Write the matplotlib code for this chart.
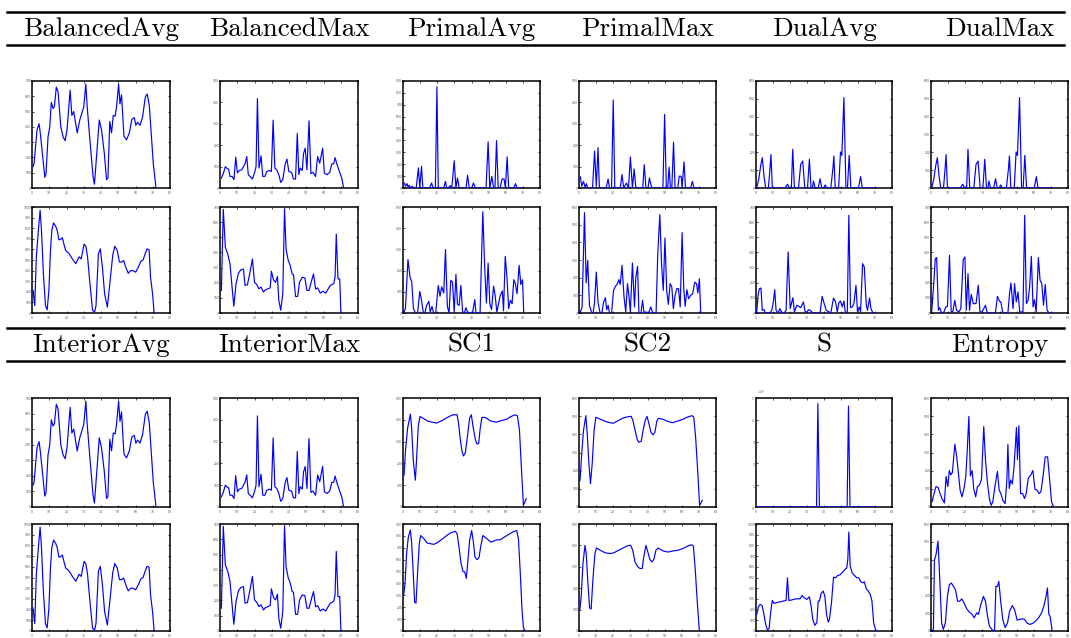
import numpy as np
import matplotlib
matplotlib.use("Agg")
import matplotlib.pyplot as plt
from matplotlib.lines import Line2D

plt.rcParams['axes.formatter.use_mathtext'] = True
plt.rcParams['mathtext.fontset'] = 'cm'

W, H = 1071, 638

# ---- data: x = step, y in units of the y ticks ----
bal_avg_top_x = [0.6,1.2,2.9,4.1,4.8,6.4,7.4,8.1,9.3,10.3,11.2,12.2,13.0,14.1,15.1,16.7,18.0,19.2,20.3,22.1,23.1,24.2,26.2,27.7,30.0,31.2,32.0,33.9,35.4,36.2,37.4,39.0,40.3,41.9,43.2,44.0,45.1,46.1,47.1,48.2,49.0,50.2,51.0,51.9,53.3,54.8,56.4,57.9,59.3,60.2,61.2,62.6,64.1,65.7,66.8,68.0,69.1,70.3,71.9]
bal_avg_top_y = [1.4,1.6,3.8,4.2,3.6,1.85,0.7,0.9,3.35,4.0,5.6,5.2,5.35,6.6,6.3,4.0,3.35,3.1,3.8,6.4,4.75,5.0,3.6,4.45,5.3,6.8,5.3,2.7,0.75,0.25,2.05,4.45,3.8,2.3,0.55,0.65,4.35,3.6,4.75,4.7,5.3,6.8,5.5,6.1,3.4,3.15,3.6,4.5,4.6,4.1,4.3,4.1,4.65,5.95,6.15,5.4,3.6,1.6,0.0]

bal_avg_bot_x = [0.6,1.6,2.5,3.7,4.7,5.5,6.6,7.8,8.8,9.8,10.7,11.5,12.5,13.7,14.6,15.6,16.6,17.6,18.5,19.5,21.5,23.4,25.4,27.3,28.5,30.2,31.2,32.2,33.6,35.1,36.3,37.1,38.5,39.6,40.8,42.1,43.7,44.9,46.8,48.0,49.4,50.7,51.9,53.1,54.3,55.8,57.2,58.5,60.1,61.7,63.2,64.4,65.6,66.7,67.9,68.7,69.9,70.8]
bal_avg_bot_y = [2.15,0.7,5.3,7.8,9.7,7.8,3.7,0.7,0.3,2.15,5.9,7.8,8.5,8.2,7.8,6.9,6.95,7.1,6.5,5.9,5.6,5.1,4.65,5.3,5.1,6.5,6.3,5.3,2.75,0.25,0.1,0.7,5.6,6.05,4.35,1.8,0.55,2.45,5.45,6.3,5.9,4.8,4.8,4.95,4.35,3.75,4.0,4.0,3.85,4.35,4.9,5.0,5.6,6.05,5.95,3.4,1.8,0.0]

bal_max_top_x = [0.8,1.9,3.1,3.9,5.0,5.8,7.0,8.1,9.1,10.1,11.2,12.6,13.6,14.5,15.5,16.4,17.4,18.8,20.1,20.9,21.7,22.6,23.8,24.8,26.0,27.1,28.7,29.8,30.8,31.8,32.9,34.1,35.2,36.4,37.8,38.8,39.9,41.5,42.6,43.8,44.8,45.7,46.5,47.7,48.4,49.4,50.4,51.6,52.7,53.9,55.4,56.6,57.8,59.5,60.5,62.0,63.6,64.8,65.9,66.7,67.9,69.4,70.6,71.7]
bal_max_top_y = [0.46,0.67,1.0,0.93,0.88,0.54,0.54,0.39,1.44,0.7,0.82,0.85,1.0,1.13,1.47,0.62,0.54,0.42,0.73,1.0,4.18,0.93,1.5,0.54,0.54,0.77,0.82,0.77,3.17,0.93,0.85,0.62,0.26,0.39,1.13,1.35,0.77,0.73,0.42,0.42,2.55,0.62,0.93,0.82,1.6,1.86,0.85,3.14,0.67,0.73,0.54,1.47,1.16,1.86,0.7,0.62,0.73,1.13,1.13,1.42,1.08,0.73,0.46,0.0]

bal_max_bot_x = [0.8,1.9,3.1,4.6,5.8,7.0,8.0,9.3,10.7,12.0,13.6,14.5,15.9,17.4,18.8,20.0,21.3,22.5,23.8,25.2,26.3,27.9,29.1,29.8,31.0,32.2,33.3,34.1,35.2,36.4,37.4,38.3,39.5,40.7,41.8,42.6,43.8,45.0,46.1,47.7,49.2,50.4,51.6,53.1,54.2,55.4,56.6,58.1,59.7,61.2,62.4,63.9,65.9,66.7,67.4,68.4,69.4,70.1]
bal_max_bot_y = [1.49,6.85,4.33,3.85,3.24,1.71,0.44,1.93,2.63,2.84,2.9,1.82,1.86,2.7,3.57,2.03,1.88,1.6,1.71,1.38,1.53,1.6,1.66,2.76,2.19,2.03,2.41,0.83,0.18,1.27,6.89,4.22,3.5,3.13,2.58,2.54,1.09,1.09,2.03,2.36,2.32,1.49,1.49,2.14,2.58,1.58,1.66,1.31,1.44,1.31,1.53,1.82,1.93,2.36,5.21,2.25,2.25,0.0]

primal_avg_top_x = [0.8,1.4,2.4,2.9,3.7,4.3,5.3,6.3,7.7,9.0,9.8,10.8,11.6,15.5,16.7,17.5,18.9,19.8,20.6,23.8,24.8,25.5,26.5,27.5,28.5,29.9,30.9,31.8,32.8,36.8,37.7,38.7,40.1,41.1,42.3,48.5,49.7,50.7,51.9,52.9,53.7,54.6,55.6,56.8,57.8,59.0,59.8,60.8,61.7,64.7,65.7,66.6,70.2]
primal_avg_top_y = [0.42,0.14,0.37,0.08,0.22,0,0.14,0,0,1.69,0,1.83,0,0,0.42,0,0,8.51,0,0,0.56,0,0,0.2,0,2.3,0,0.84,0,0,1.07,0,0,0.42,0,0,3.88,0,0.98,0,0,3.99,0,0,0.76,0.76,0,2.61,0,0,0.37,0,0]

primal_avg_bot_x = [0.4,1.4,2.9,4.1,5.1,6.1,7.3,8.5,9.8,10.8,11.8,12.8,13.8,15.1,15.9,16.9,17.9,19.1,20.6,21.6,22.6,23.8,24.8,25.9,26.9,27.9,28.9,29.9,30.9,31.8,32.8,33.8,34.8,35.8,36.8,37.7,39.1,40.7,41.9,42.6,45.0,46.6,47.7,48.7,49.7,50.7,51.7,52.9,53.8,54.8,55.8,56.8,58.0,58.7,59.7,60.7,61.7,62.7,63.7,64.7,65.6,66.6,67.8,68.8,69.8,70.5]
primal_avg_bot_y = [0,0.2,2.52,1.7,1.46,0.2,0,0,1.02,0.6,0.05,0,0.36,0.55,0.05,0.31,0,0,1.3,0.79,1.23,0.94,2.99,0.31,0,1.54,1.46,0.05,1.82,0.41,0.36,1.3,0.05,0,0.25,0.05,0,0.05,0.63,0,0,4.78,2.17,0.47,2.36,0.44,0.16,1.27,0.83,0.05,0.44,0.83,1.04,0.1,2.67,1.7,0.2,0.6,0.44,1.57,1.38,0.91,2.25,1.34,1.57,0]

primal_max_top_x = [0.8,1.6,2.6,3.6,4.3,5.1,7.9,9.1,10.1,11.1,11.9,15.8,17.0,17.8,19.0,20.0,20.9,24.1,25.1,26.1,27.7,28.9,30.0,31.2,32.2,33.2,37.2,38.1,39.1,40.3,41.1,42.5,49.0,50.0,51.0,51.8,52.6,53.4,54.2,55.2,56.1,57.7,58.5,59.7,60.2,61.3,62.2,65.2,66.2,67.2,71.1]
primal_max_top_y = [0.52,0.08,0.31,0.03,0.2,0,0,1.72,0.08,1.88,0,0,0.42,0,0,4.11,0,0,0.63,0,0.23,0,1.45,0,0.89,0,0,1.09,0,0,0.47,0,0,3.44,0,0,0.98,0,0,2.14,0,0,0.55,0.55,0,1.22,0,0,0.31,0,0]

primal_max_bot_x = [0.6,1.8,3.2,4.2,5.1,6.1,7.3,8.3,9.1,10.1,11.1,12.3,13.4,14.4,15.4,16.2,17.0,17.8,19.0,20.2,21.3,22.5,23.3,24.1,25.1,26.3,27.3,28.3,29.2,30.0,31.2,32.4,33.2,34.2,35.0,36.2,37.1,37.9,39.5,40.7,41.9,43.1,45.0,46.0,47.2,48.2,49.2,50.2,51.2,52.2,53.2,54.2,55.1,56.1,57.1,58.1,59.1,60.2,61.2,62.0,63.0,64.0,65.2,66.4,67.6,68.6,69.4,70.3,71.1]
primal_max_bot_y = [0,0.34,5.68,1.7,2.98,0.43,0.05,0,0.62,2.32,0.62,0,0.05,0.62,0.87,0.18,0.43,0,0,1.28,1.51,1.66,1.89,1.62,2.7,0.91,0.05,1.66,0.94,0.05,2.83,0.34,2.04,2.64,0,0,0.72,0.05,0.05,0,0.34,0,0,3.36,5.57,2.79,1.28,4.25,1.28,0.49,1.66,1.47,0.25,1.0,1.38,1.38,0.34,4.55,1.32,0.38,1.32,0.81,1.0,1.09,1.75,1.66,1.13,1.94,0]

dual_top_x = [0.4,1.6,2.8,3.7,4.7,5.7,7.3,8.3,8.8,9.6,17.1,18.5,19.7,20.8,21.6,22.6,25.0,26.3,27.5,28.7,30.3,31.4,32.4,33.2,33.8,34.8,36.6,37.7,38.7,39.7,40.7,41.7,44.0,45.2,45.8,46.6,48.6,49.7,50.5,51.7,52.9,53.8,54.8,55.8,60.3,61.5,62.5,70.2]
dual_top_y = [0,0.49,1.27,1.7,0.67,0,0,1.18,1.87,0,0,0.21,0,0,2.17,0,0,1.33,1.51,0,0,1.61,0,0,0.39,0,0,0.52,0,0,0.17,0,0,1.05,1.79,0,0,2.02,1.83,5.07,0,0,1.83,0,0,0.64,0,0]

dual_avg_bot_x = [0.4,1.2,2.0,2.9,3.7,4.7,5.5,8.3,9.4,10.2,11.0,11.8,13.0,14.0,15.0,16.5,17.7,18.9,20.1,21.7,22.6,24.0,25.2,26.3,27.9,28.9,29.9,31.1,32.3,33.4,37.7,38.9,40.1,41.3,44.0,45.6,46.8,47.8,48.7,49.7,50.7,51.7,52.5,53.7,54.6,55.6,56.6,57.6,58.8,59.7,60.7,61.5,62.7,63.7,64.9,65.6,66.8,67.6,68.8,70.2]
dual_avg_bot_y = [0,1.17,1.61,1.65,0.18,0.22,0,0,0.22,0.73,1.54,0.18,0,0.29,0.07,0,0.18,4.03,0.29,1.01,0.07,0.51,0.44,0.35,0.73,0.07,0.07,0.22,0.13,0,0,1.1,0.62,0.18,0,0.99,0.73,0.07,0.66,0.79,0.4,0.79,0.07,0,6.45,0.35,0.4,0.62,1.83,0.07,0.4,0.07,3.26,3.04,0.51,0.18,0.99,0.29,0,0]

dual_max_bot_x = [0.4,1.6,2.5,3.3,4.3,5.1,6.1,7.6,8.6,9.6,10.8,11.8,12.7,13.9,14.9,16.3,17.4,18.8,19.8,20.6,21.6,22.5,23.5,24.7,26.3,27.6,28.6,29.8,30.8,31.8,32.7,33.7,37.6,38.8,40.0,40.8,41.8,42.7,44.9,45.9,46.7,47.9,48.8,49.8,50.8,51.8,53.7,54.7,55.7,56.7,57.6,58.6,59.6,60.4,61.4,62.7,63.7,64.7,65.7,66.7,67.8,69.0,70.2]
dual_max_bot_y = [0.07,1.94,3.59,3.66,0.18,0.35,0,0.07,0.4,0.44,3.81,0.07,0.07,0.84,0.18,0.07,0.29,3.52,3.7,0.18,2.6,0.18,1.23,0.62,0.62,1.83,0.07,0.07,0.29,0.51,0.07,0,0,1.1,0.77,0.73,0.07,0,0,1.32,1.98,0.29,1.94,0.73,1.39,0.07,0.07,6.45,0.62,0.84,1.72,3.74,0.4,0.88,0.07,3.66,2.16,1.94,0.51,1.89,0.18,0,0]

sc1_top_x = [0.6,1.5,2.7,4.3,5.0,6.0,7.2,7.9,8.9,9.9,12.2,14.1,17.0,19.6,22.9,26.2,29.1,31.6,32.4,33.5,34.5,35.3,36.4,37.4,38.9,39.9,40.9,42.2,43.2,44.2,45.1,46.1,48.1,51.0,54.4,57.7,60.6,63.0,65.5,66.8,68.0,69.1,70.3,71.1,71.9]
sc1_top_y = [1.46,2.62,3.62,4.26,3.69,2.15,1.23,2.15,3.69,4.15,4.05,3.95,3.89,3.85,3.97,4.12,4.23,4.23,3.85,3.08,2.54,2.34,2.49,3.08,4.08,4.23,3.69,3.11,2.89,2.92,3.62,4.11,4.11,3.95,3.89,3.97,4.03,4.15,4.23,4.18,3.54,1.85,0.08,0.23,0.38]

sc1_bot_x = [0.4,1.2,2.1,3.1,4.3,5.0,5.8,6.8,7.6,8.5,9.5,10.3,12.2,14.1,16.1,18.0,19.6,21.9,24.8,27.7,30.6,31.6,32.7,33.9,35.1,36.0,37.0,38.0,38.9,40.1,41.1,42.0,43.2,44.4,45.3,46.7,49.0,51.3,52.9,54.8,56.8,59.1,61.6,64.5,66.4,67.4,68.4,69.5,70.3,71.1]
sc1_bot_y = [3.05,4.02,6.51,7.89,8.5,7.48,5.4,2.41,2.35,4.85,7.34,8.03,7.76,7.4,7.34,7.29,7.4,7.62,7.95,8.25,8.39,8.17,7.06,5.68,4.99,4.99,4.43,6.09,7.62,8.45,7.48,6.23,6.0,6.17,7.06,8.03,7.76,7.48,7.56,7.67,7.67,7.89,8.11,8.36,8.45,7.76,5.12,1.8,0.28,0.08]

sc2_top_x = [0.6,1.5,2.6,4.0,4.8,5.8,6.7,7.7,8.8,9.8,12.3,15.2,18.1,20.0,22.8,25.7,28.6,30.5,31.5,32.8,34.0,34.9,36.3,37.4,38.6,39.7,40.9,42.0,43.2,44.3,45.5,46.4,48.7,51.6,54.5,57.4,60.3,63.1,66.0,67.0,68.1,69.3,70.4,71.2,72.0]
sc2_top_y = [1.46,2.83,4.2,5.03,4.02,2.38,1.28,2.38,4.2,4.94,4.84,4.72,4.64,4.61,4.75,4.9,4.97,4.99,4.75,4.2,3.71,3.56,3.62,4.2,4.75,4.99,4.57,4.11,3.97,4.11,4.75,4.88,4.84,4.72,4.64,4.72,4.81,4.94,5.03,4.94,3.84,2.01,0.09,0.22,0.37]

sc2_bot_x = [0.5,1.3,2.3,3.5,4.2,5.2,6.2,7.1,8.1,9.3,10.2,12.5,15.4,18.3,20.2,23.1,26.0,28.9,30.2,31.4,32.7,34.3,35.6,36.9,37.9,39.1,40.2,41.4,42.5,43.7,44.9,46.2,49.1,51.9,54.8,57.7,60.6,63.5,65.8,66.8,67.9,69.1,70.2,70.6]
sc2_bot_y = [1.0,1.62,3.15,4.0,3.62,2.23,1.08,1.03,2.38,3.62,3.88,3.77,3.65,3.62,3.65,3.77,3.89,4.0,4.0,3.77,3.23,3.0,2.92,2.92,3.49,4.0,3.69,3.34,3.23,3.34,3.77,3.88,3.74,3.69,3.74,3.77,3.85,3.97,4.03,3.97,2.85,1.31,0.08,0]

s_top_x = [0.3,35.6,36.4,37.3,53.6,54.4,55.3,70.2]
s_top_y = [0,0,47400,0,0,46300,0,0]

s_bot_x = [0.4,1.4,2.4,3.5,4.5,5.7,6.7,7.7,8.6,9.6,10.6,11.8,13.2,14.5,16.1,17.7,18.5,19.3,20.8,22.0,24.0,26.0,27.1,28.3,29.9,31.4,32.4,33.4,34.6,35.8,36.6,37.3,38.3,39.5,40.5,41.5,42.5,43.2,44.4,45.6,46.8,48.0,49.5,50.9,52.3,53.4,54.0,54.6,55.4,56.6,57.9,59.3,60.5,61.6,62.8,63.7,64.9,66.0,67.2,68.2,69.2,70.2,71.2]
s_bot_y = [1.55,2.27,2.48,2.39,1.71,0.62,0.09,0.22,1.71,2.86,2.58,2.64,2.7,2.73,2.8,2.86,4.97,2.86,2.89,2.95,3.01,3.01,3.32,3.11,2.95,3.2,2.33,1.09,0.53,0.78,2.8,2.8,3.51,3.73,3.26,1.55,0.84,1.09,2.64,5.03,4.97,5.19,5.25,5.5,5.75,5.9,6.68,9.25,6.06,5.43,5.19,4.97,4.97,4.6,4.5,4.6,3.94,3.73,3.42,2.8,0.78,0.16,0]

entropy_top_x = [0.6,1.8,2.9,4.1,5.3,6.4,7.8,8.8,9.8,10.7,11.5,12.5,13.9,15.0,16.0,17.0,18.1,19.3,20.3,21.1,22.1,23.0,24.0,25.0,26.1,27.1,28.3,29.5,30.8,31.8,33.0,34.1,35.1,36.1,37.3,38.8,39.8,40.8,41.9,43.3,44.3,44.9,45.7,46.5,47.5,48.5,49.9,50.5,51.3,52.3,53.5,54.6,55.6,56.8,58.3,59.5,60.7,61.9,63.1,64.2,65.4,66.7,68.1,69.3,70.4,71.6]
entropy_top_y = [0.28,0.74,1.12,1.08,0.74,0.47,0.22,1.68,1.12,2.01,1.77,1.9,3.45,2.79,1.86,0.93,0.56,1.02,1.68,2.98,4.99,1.71,2.01,0.97,0.56,1.12,1.21,1.53,4.43,2.61,1.3,0.47,0.09,0.28,1.12,1.96,0.93,0.74,0.37,0.19,1.49,3.45,1.02,1.49,1.27,2.23,4.38,2.61,4.47,0.74,0.74,0.47,0.74,1.58,1.77,2.01,0.97,0.93,0.74,0.84,1.68,2.76,2.76,1.49,0.28,0]

entropy_bot_x = [0.6,1.4,2.0,2.9,4.1,5.3,6.2,7.2,8.4,9.6,10.7,11.9,13.1,14.3,15.5,16.7,18.0,19.3,20.9,22.4,24.0,25.2,26.7,27.7,29.1,30.6,31.8,33.0,34.1,35.5,36.5,37.1,37.9,38.8,39.6,40.8,41.9,43.3,44.7,45.9,47.5,48.9,50.3,51.9,53.3,54.6,56.2,57.8,59.4,61.1,63.1,64.6,66.0,67.0,68.0,68.8,69.5,70.7]
entropy_bot_y = [0,0.09,3.98,4.26,5.04,2.5,0.46,0.09,0.46,1.94,2.59,2.69,2.5,2.31,1.67,1.67,1.8,1.57,1.24,1.06,0.93,0.74,1.02,0.93,1.48,1.94,1.67,0.83,0.28,0.09,0,0,2.5,2.5,2.78,1.57,0.65,0.19,0.46,1.11,1.43,1.17,0.61,0.65,0.69,0.65,0.43,0.37,0.43,0.56,0.78,1.02,1.43,1.85,2.41,0.93,0.83,0.06]

top_names = ["BalancedAvg", "BalancedMax", "PrimalAvg", "PrimalMax", "DualAvg", "DualMax"]
bottom_names = ["InteriorAvg", "InteriorMax", "SC1", "SC2", "S", "Entropy"]

# each entry: (x, y, y max, y step); two plots under every heading
top_panels = [
    [(bal_avg_top_x, bal_avg_top_y, 7, 1), (bal_avg_bot_x, bal_avg_bot_y, 10, 1)],
    [(bal_max_top_x, bal_max_top_y, 5, 1), (bal_max_bot_x, bal_max_bot_y, 7, 1)],
    [(primal_avg_top_x, primal_avg_top_y, 9, 1), (primal_avg_bot_x, primal_avg_bot_y, 5, 1)],
    [(primal_max_top_x, primal_max_top_y, 5, 1), (primal_max_bot_x, primal_max_bot_y, 6, 1)],
    [(dual_top_x, dual_top_y, 6, 1), (dual_avg_bot_x, dual_avg_bot_y, 7, 1)],
    [(dual_top_x, dual_top_y, 6, 1), (dual_max_bot_x, dual_max_bot_y, 7, 1)],
]
bottom_panels = [
    [(bal_avg_top_x, bal_avg_top_y, 7, 1), (bal_avg_bot_x, bal_avg_bot_y, 10, 1)],
    [(bal_max_top_x, bal_max_top_y, 5, 1), (bal_max_bot_x, bal_max_bot_y, 7, 1)],
    [(sc1_top_x, sc1_top_y, 5, 1), (sc1_bot_x, sc1_bot_y, 9, 1)],
    [(sc2_top_x, sc2_top_y, 6, 1), (sc2_bot_x, sc2_bot_y, 5, 1)],
    [(s_top_x, s_top_y, 50000, 10000), (s_bot_x, s_bot_y, 10, 1)],
    [(entropy_top_x, entropy_top_y, 6, 1), (entropy_bot_x, entropy_bot_y, 6, 1)],
]

# pixel layout
col_left = [32, 220, 403, 579, 756, 931]
col_right = [170, 358, 540, 716, 892, 1068]
row_top = [81, 207, 398, 524]
row_bot = [188, 313, 507, 631]

fig = plt.figure(figsize=(W / 100, H / 100), dpi=100)


def small_plot(l, t, r, b, x, y, ymax, ystep):
    ax = fig.add_axes([l / W, 1 - b / H, (r - l) / W, (b - t) / H])
    # line drawn over the frame, as in the original where zero runs show blue
    ax.plot(x, y, color='#0000ff', lw=0.85, zorder=3)
    ax.set_xlim(0, 80)
    ax.set_ylim(0, ymax)
    ax.set_xticks(np.arange(0, 81, 10))
    ticks = np.arange(0, ymax + ystep / 2, ystep)
    ax.set_yticks(ticks)
    ax.tick_params(direction='in', top=True, right=True, length=1.5, width=0.5,
                   labelsize=2.2, labelcolor='#555555', pad=0.6)
    if ystep > 1:
        ax.ticklabel_format(axis='y', style='sci', scilimits=(0, 0))
        ax.yaxis.get_offset_text().set_fontsize(2.2)
        ax.yaxis.get_offset_text().set_color('#555555')
    else:
        ax.set_yticklabels([str(int(round(t * 100))) for t in ticks])
    for s in ax.spines.values():
        s.set_linewidth(1.1)
    return ax


for block, (names, panels) in enumerate([(top_names, top_panels), (bottom_names, bottom_panels)]):
    for c in range(6):
        for r in range(2):
            x, y, ymax, ystep = panels[c][r]
            ri = block * 2 + r
            small_plot(col_left[c], row_top[ri], col_right[c], row_bot[ri], x, y, ymax, ystep)

# table rules and headings
for yy in [12, 45, 328, 361]:
    fig.add_artist(Line2D([7 / W, 1064 / W], [1 - yy / H, 1 - yy / H], color='black', lw=1.8))

for names, base in [(top_names, 36), (bottom_names, 352)]:
    for c, name in enumerate(names):
        cx = (col_left[c] + col_right[c]) / 2
        fig.text(cx / W, 1 - base / H, name, ha='center', va='baseline',
                 fontsize=19.5, family='cmr10')

fig.savefig('out.png', dpi=100)
